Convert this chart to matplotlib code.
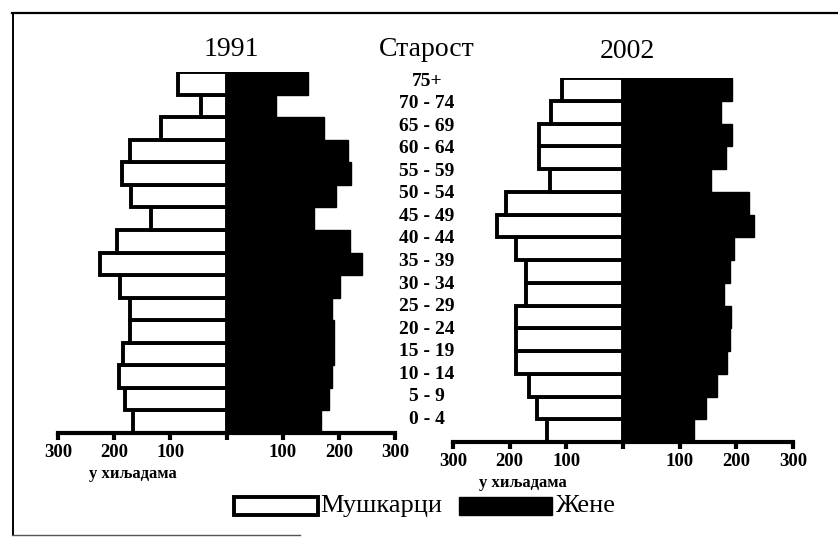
import matplotlib
matplotlib.use('Agg')
import matplotlib.pyplot as plt
import matplotlib.transforms as mtransforms
from matplotlib.patches import Rectangle
from matplotlib.lines import Line2D

# ── data (thousands), bottom group first ──
ages = ['0 - 4', '5 - 9', '10 - 14', '15 - 19', '20 - 24', '25 - 29', '30 - 34',
        '35 - 39', '40 - 44', '45 - 49', '50 - 54', '55 - 59', '60 - 64',
        '65 - 69', '70 - 74', '75+']
male_1991 = [166, 180, 191, 184, 171, 171, 189, 225, 195, 134, 170, 186, 171, 116, 46, 86]
female_1991 = [168, 182, 188, 191, 191, 187, 202, 241, 219, 155, 195, 221, 216, 173, 89, 145]
male_2002 = [134, 152, 166, 189, 189, 189, 172, 172, 189, 223, 207, 129, 149, 149, 127, 108]
female_2002 = [126, 147, 165, 184, 188, 191, 179, 188, 196, 232, 223, 156, 182, 193, 173, 193]

tick_vals = [-300, -200, -100, 0, 100, 200, 300]
tick_labels = ['300', '200', '100', '', '100', '200', '300']

SERIF = 'Liberation Serif'
W, H = 838, 540

fig = plt.figure(figsize=(W / 100, H / 100), dpi=100)
fig.patch.set_facecolor('white')


def px_axes(x0, x1, ytop, ybot):
    return fig.add_axes([x0 / W, 1 - ybot / H, (x1 - x0) / W, (ybot - ytop) / H])


def pyramid(ax, male, female):
    ypos = list(range(len(ages)))
    ax.barh(ypos, [-m for m in male], height=1.0, color='white',
            edgecolor='black', linewidth=2.8, zorder=2)
    ax.barh(ypos, female, height=1.0, color='black', edgecolor='black',
            linewidth=1, zorder=3)
    ax.set_xlim(-300, 300)
    ax.set_ylim(-0.5, len(ages) - 0.5)
    for s in ['top', 'left', 'right']:
        ax.spines[s].set_visible(False)
    ax.spines['bottom'].set_linewidth(3)
    ax.spines['bottom'].set_zorder(4)
    ax.set_yticks([])
    ax.set_xticks(tick_vals)
    ax.set_xticklabels(tick_labels, fontfamily=SERIF, fontsize=13.5, fontweight='bold')
    ax.tick_params(axis='x', direction='out', length=5, width=3, pad=3)
    ax.patch.set_alpha(0)


ax1 = px_axes(58, 395, 72, 433)
pyramid(ax1, male_1991, female_1991)
ax2 = px_axes(453, 793, 78, 442)
pyramid(ax2, male_2002, female_2002)

# ── titles ──
fig.text(231 / W, 1 - 50 / H, '1991', ha='center', va='center',
         fontfamily=SERIF, fontsize=20)
fig.text(427 / W, 1 - 50 / H, 'Старост', ha='center', va='center',
         fontfamily=SERIF, fontsize=20)
fig.text(627 / W, 1 - 52 / H, '2002', ha='center', va='center',
         fontfamily=SERIF, fontsize=20)

# ── age labels in the middle ──
trans = mtransforms.blended_transform_factory(fig.transFigure, ax1.transData)
for i, lab in enumerate(ages):
    ax1.text(427 / W, i + 0.1, lab, transform=trans, ha='center', va='center',
             fontfamily=SERIF, fontsize=14, fontweight='bold', clip_on=False)

# ── unit labels ──
fig.text(133 / W, 1 - 474 / H, 'у хиљадама', ha='center', va='center',
         fontfamily=SERIF, fontsize=12, fontweight='bold')
fig.text(523 / W, 1 - 483 / H, 'у хиљадама', ha='center', va='center',
         fontfamily=SERIF, fontsize=12, fontweight='bold')

# ── legend ──
fig.patches.append(Rectangle((234 / W, 1 - 515 / H), 84 / W, 18 / H,
                             transform=fig.transFigure, facecolor='white',
                             edgecolor='black', linewidth=2.8))
fig.text(320 / W, 1 - 506 / H, 'Мушкарци', ha='left', va='center',
         fontfamily=SERIF, fontsize=19)
fig.patches.append(Rectangle((459 / W, 1 - 515 / H), 93 / W, 18 / H,
                             transform=fig.transFigure, facecolor='black',
                             edgecolor='black', linewidth=1))
fig.text(556 / W, 1 - 506 / H, 'Жене', ha='left', va='center',
         fontfamily=SERIF, fontsize=19)

# ── frame (scanned border) ──
fig.lines.append(Line2D([12 / W, 1.0], [1 - 13 / H, 1 - 13 / H],
                        transform=fig.transFigure, color='black', linewidth=1.6))
fig.lines.append(Line2D([13 / W, 13 / W], [1 - 13 / H, 1 - 535 / H],
                        transform=fig.transFigure, color='black', linewidth=1.4))
fig.lines.append(Line2D([12 / W, 300 / W], [1 - 535 / H, 1 - 535 / H],
                        transform=fig.transFigure, color='#555555', linewidth=1.0))

fig.savefig('out.png', dpi=100, facecolor='white')
